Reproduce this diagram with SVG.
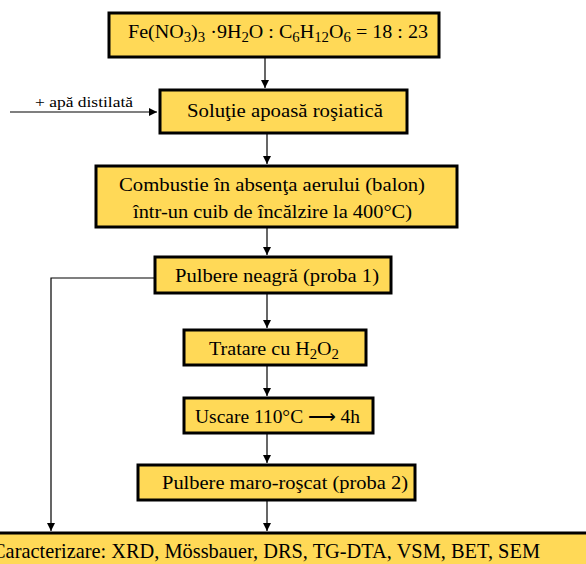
<svg xmlns="http://www.w3.org/2000/svg" width="586" height="564" viewBox="0 0 586 564">
  <style>
    .box { fill: #FFD957; stroke: #000; stroke-width: 3; }
    .lbl { font-family: "Liberation Serif", "Times New Roman", serif; fill: #000; }
    .line { fill: none; stroke: #000; stroke-width: 1.2; }
  </style>
  <defs>
    <marker id="arrow" markerWidth="10" markerHeight="10" refX="8" refY="4" orient="auto" markerUnits="userSpaceOnUse">
      <path d="M0,0 L8,4 L0,8 Z" fill="#000"/>
    </marker>
  </defs>
  <rect width="586" height="564" fill="#fff"/>

  <!-- connectors -->
  <g id="connectors">
    <line class="line" x1="265" y1="57" x2="265" y2="88" marker-end="url(#arrow)"/>
    <line class="line" x1="10" y1="112" x2="157" y2="112" marker-end="url(#arrow)"/>
    <line class="line" x1="267" y1="133" x2="267" y2="164" marker-end="url(#arrow)"/>
    <line class="line" x1="267" y1="227" x2="267" y2="255" marker-end="url(#arrow)"/>
    <line class="line" x1="267" y1="293" x2="267" y2="328" marker-end="url(#arrow)"/>
    <line class="line" x1="267" y1="365" x2="267" y2="396" marker-end="url(#arrow)"/>
    <line class="line" x1="267" y1="433" x2="267" y2="463" marker-end="url(#arrow)"/>
    <line class="line" x1="267" y1="500" x2="267" y2="531" marker-end="url(#arrow)"/>
    <polyline class="line" points="155,278 51,278 51,531" marker-end="url(#arrow)"/>
    <text class="lbl" x="35" y="107" font-size="15" textLength="98" lengthAdjust="spacingAndGlyphs">+ apă distilată</text>
  </g>

  <g id="n1">
    <rect class="box" x="109" y="13" width="330" height="44"/>
    <text class="lbl" x="128" y="38" font-size="19" textLength="300" lengthAdjust="spacingAndGlyphs">Fe(NO<tspan font-size="14" dy="4">3</tspan><tspan dy="-4">)</tspan><tspan font-size="14" dy="4">3</tspan><tspan dy="-4"> ·9H</tspan><tspan font-size="14" dy="4">2</tspan><tspan dy="-4">O : C</tspan><tspan font-size="14" dy="4">6</tspan><tspan dy="-4">H</tspan><tspan font-size="14" dy="4">12</tspan><tspan dy="-4">O</tspan><tspan font-size="14" dy="4">6</tspan><tspan dy="-4"> = 18 : 23</tspan></text>
  </g>

  <g id="n2">
    <rect class="box" x="160" y="90" width="247" height="43"/>
    <text class="lbl" x="187" y="117" font-size="19" textLength="196" lengthAdjust="spacingAndGlyphs">Soluţie apoasă roşiatică</text>
  </g>

  <g id="n3">
    <rect class="box" x="96" y="166" width="361" height="61"/>
    <text class="lbl" x="119" y="191" font-size="18" textLength="306" lengthAdjust="spacingAndGlyphs">Combustie în absenţa aerului (balon)</text>
    <text class="lbl" x="133" y="218" font-size="18" textLength="279" lengthAdjust="spacingAndGlyphs">într-un cuib de încălzire la 400°C)</text>
  </g>

  <g id="n4">
    <rect class="box" x="155" y="257" width="236" height="36"/>
    <text class="lbl" x="175" y="282" font-size="19" textLength="204" lengthAdjust="spacingAndGlyphs">Pulbere neagră (proba 1)</text>
  </g>

  <g id="n5">
    <rect class="box" x="184" y="330" width="182" height="35"/>
    <text class="lbl" x="209" y="355" font-size="19" textLength="130" lengthAdjust="spacingAndGlyphs">Tratare cu H<tspan font-size="14" dy="4">2</tspan><tspan dy="-4">O</tspan><tspan font-size="14" dy="4">2</tspan></text>
  </g>

  <g id="n6">
    <rect class="box" x="184" y="398" width="189" height="35"/>
    <text class="lbl" x="195" y="423" font-size="19" textLength="165" lengthAdjust="spacingAndGlyphs">Uscare 110°C ⟶ 4h</text>
  </g>

  <g id="n7">
    <rect class="box" x="138" y="465" width="277" height="35"/>
    <text class="lbl" x="162" y="489" font-size="19" textLength="246" lengthAdjust="spacingAndGlyphs">Pulbere maro-roşcat (proba 2)</text>
  </g>

  <g id="n8">
    <rect class="box" x="-10" y="533" width="610" height="40"/>
    <text class="lbl" x="-8" y="558" font-size="21" textLength="548" lengthAdjust="spacingAndGlyphs">Caracterizare: XRD, Mössbauer, DRS, TG-DTA, VSM, BET, SEM</text>
  </g>
</svg>
